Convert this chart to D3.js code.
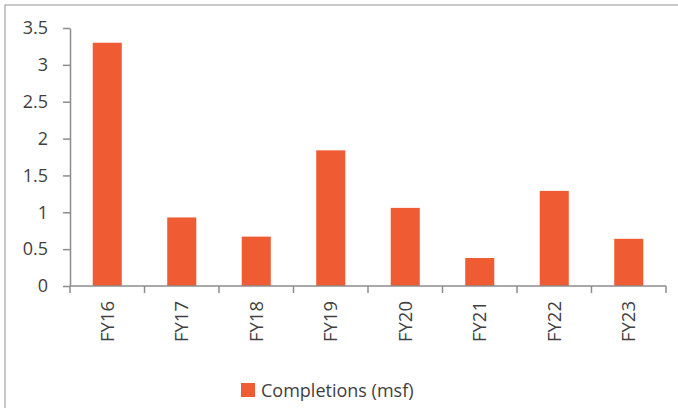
<!DOCTYPE html>
<html>
<head>
<meta charset="utf-8">
<script src="https://cdn.jsdelivr.net/npm/d3@7"></script>
<style>
  body { margin: 0; background: #fff; }
  svg text { font-family: "Open Sans", "Liberation Sans", sans-serif; fill: #404040; }
  .axis path, .axis line { stroke: #8c8c8c; stroke-width: 1.5px; }
</style>
</head>
<body>
<div class="barchart"></div>
<script>
// Data
var years = ["FY16", "FY17", "FY18", "FY19", "FY20", "FY21", "FY22", "FY23"];
var completions = [3.3, 0.93, 0.67, 1.84, 1.06, 0.38, 1.29, 0.64];
var yTicks = [0, 0.5, 1, 1.5, 2, 2.5, 3, 3.5];
var seriesName = "Completions (msf)";

var width = 678;
var height = 408;
var margin = {top: 28, right: 12, bottom: 122, left: 70};
var chartWidth = width - margin.left - margin.right;
var chartHeight = height - margin.top - margin.bottom;
var barColor = "#ef5b32";

var x = d3.scaleBand()
    .domain(years)
    .range([0, chartWidth])
    .padding(0);

var y = d3.scaleLinear()
    .domain([0, 3.5])
    .range([chartHeight, 0]);

var barWidth = x.bandwidth() * 0.39;

var svg = d3.select(".barchart")
    .append("svg")
    .attr("width", width)
    .attr("height", height);

// outer chart border (runs off the right and bottom edge)
svg.append("rect")
    .attr("x", 5)
    .attr("y", 5)
    .attr("width", width + 10)
    .attr("height", height + 10)
    .attr("fill", "none")
    .attr("stroke", "#a6a6a6")
    .attr("stroke-width", 1.2);

var g = svg.append("g")
    .attr("transform", "translate(" + margin.left + "," + margin.top + ")");

g.selectAll(".bar")
    .data(years)
    .enter().append("rect")
        .attr("class", "bar")
        .attr("x", function(d) { return x(d) + (x.bandwidth() - barWidth) / 2; })
        .attr("y", function(d, i) { return y(completions[i]); })
        .attr("width", barWidth)
        .attr("height", function(d, i) { return y(0) - y(completions[i]); })
        .attr("fill", barColor);

// y axis
var yAxis = g.append("g")
    .attr("class", "axis axis--y")
    .call(d3.axisLeft(y).tickValues(yTicks).tickSize(7).tickPadding(15).tickSizeOuter(0)
        .tickFormat(d3.format("")));
yAxis.selectAll("text").style("font-size", "18px");

// x axis, ticks on the band edges
var xAxis = g.append("g")
    .attr("class", "axis axis--x")
    .attr("transform", "translate(0," + chartHeight + ")");

xAxis.append("line")
    .attr("x1", 0)
    .attr("x2", chartWidth)
    .attr("y1", 0)
    .attr("y2", 0);

xAxis.selectAll(".edge")
    .data(years.concat(["end"]))
    .enter().append("line")
        .attr("class", "edge")
        .attr("x1", function(d, i) { return i * x.step(); })
        .attr("x2", function(d, i) { return i * x.step(); })
        .attr("y1", 0)
        .attr("y2", 7);

xAxis.selectAll(".label")
    .data(years)
    .enter().append("text")
        .attr("class", "label")
        .attr("transform", function(d) {
            return "translate(" + (x(d) + x.bandwidth() / 2) + ",15) rotate(-90)";
        })
        .attr("dy", "0.35em")
        .attr("text-anchor", "end")
        .style("font-size", "18.5px")
        .text(function(d) { return d; });

// legend
var legend = svg.append("g")
    .attr("transform", "translate(241,383)");

legend.append("rect")
    .attr("width", 14)
    .attr("height", 14)
    .attr("fill", barColor);

legend.append("text")
    .attr("x", 20)
    .attr("y", 13.5)
    .style("font-size", "18px")
    .text(seriesName);
</script>
</body>
</html>
